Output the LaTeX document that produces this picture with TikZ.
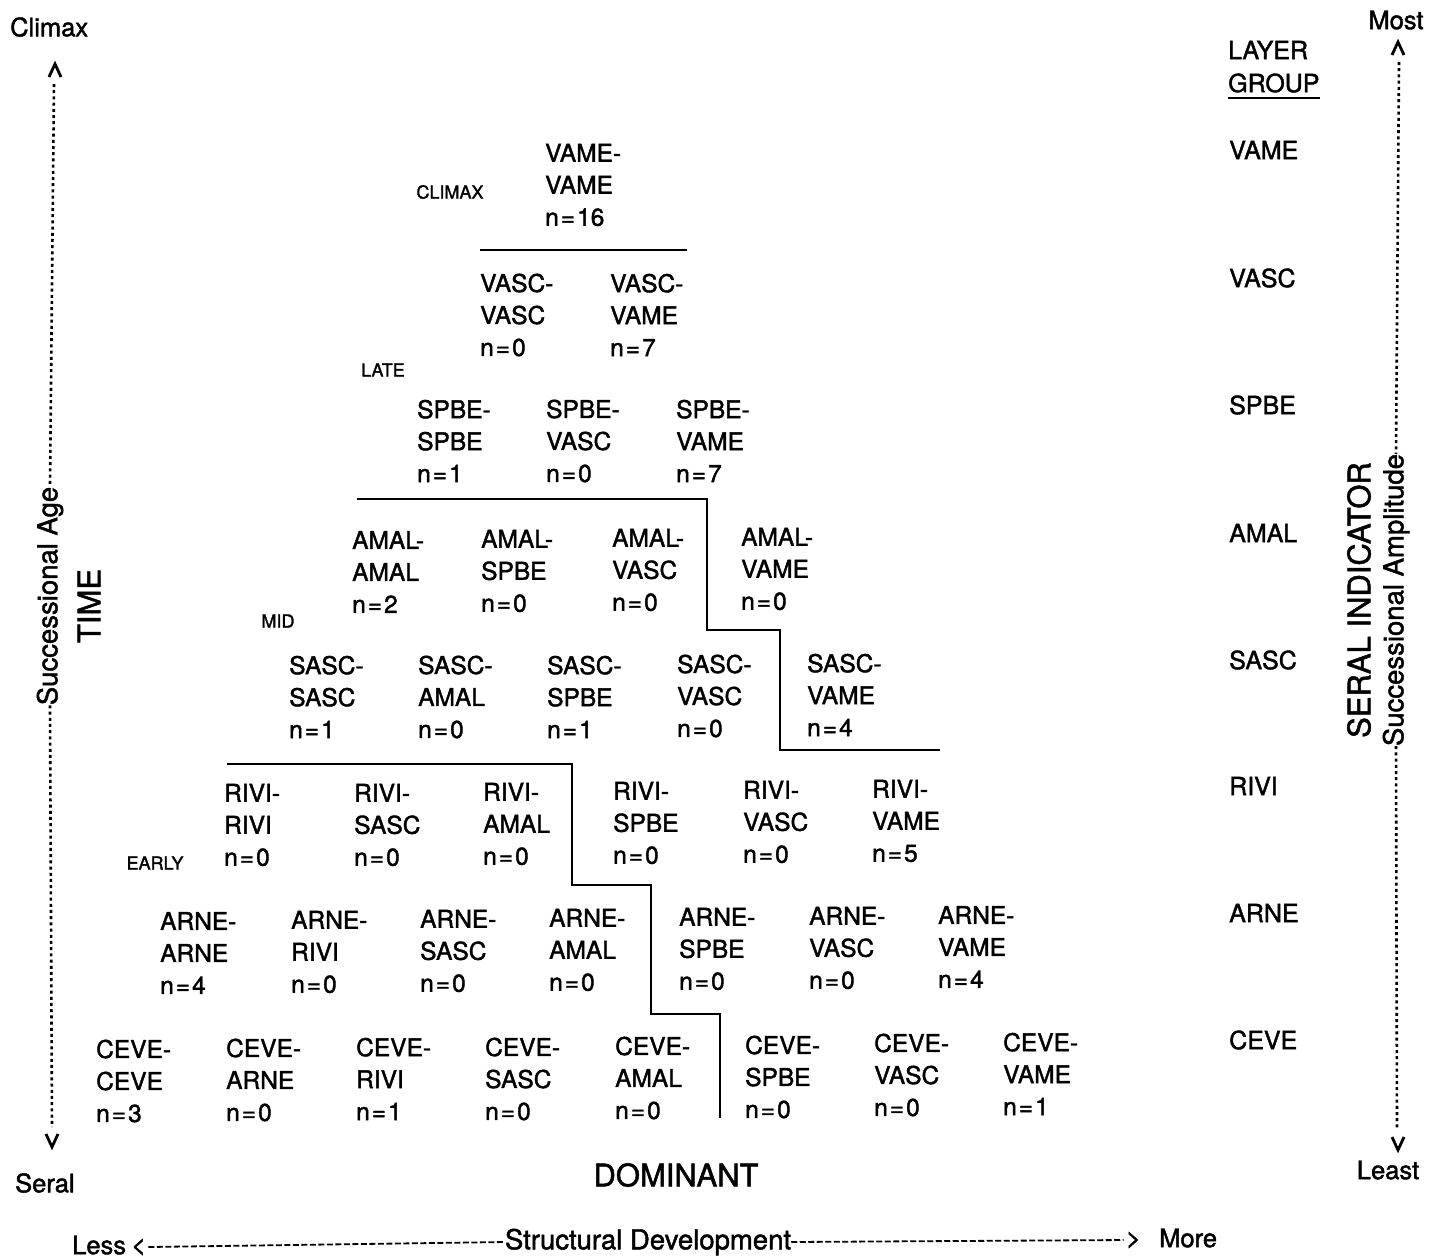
\documentclass[tikz,border=0pt]{standalone}
\usepackage{fontspec}
\setmainfont{TeX Gyre Heros}[UprightFeatures={FakeBold=1.6}]
\newcommand{\nval}[1]{n\kern2pt=\kern2pt#1}
\begin{document}
\begin{tikzpicture}[x=1pt,y=-1pt,
  cell/.style={anchor=west,align=left,inner sep=0pt,font=\fontsize{24.5}{32}\selectfont},
  grp/.style={anchor=west,inner sep=0pt,font=\fontsize{25}{30}\selectfont},
  stage/.style={inner sep=0pt,font=\fontsize{18}{20}\selectfont},
  corner/.style={inner sep=0pt,font=\fontsize{25.5}{30}\selectfont},
  axislbl/.style={inner sep=0pt,font=\fontsize{27.5}{32}\selectfont},
  biglbl/.style={inner sep=0pt,font=\fontsize{31}{36}\selectfont},
  boundary/.style={line width=2.6pt},
  dotaxis/.style={line width=2.6pt,dash pattern=on 3pt off 3.2pt},
  dashaxis/.style={line width=1.8pt,dash pattern=on 6pt off 2.5pt},
  chev/.style={line width=2.8pt}]
\useasboundingbox (0,0) rectangle (1443,1259);

% ---------- cells: layer-group pairs with counts ----------
\node[cell] (vame-vame) at (545,185) {VAME-\\VAME\\\nval{16}};

\foreach \x/\y/\b/\cnt in {480/315/VASC/0, 610/315/VAME/7}
  \node[cell] (vasc-\b) at (\x,\y) {VASC-\\\b\\\nval{\cnt}};

\foreach \x/\y/\b/\cnt in {417/441/SPBE/1, 546/441/VASC/0, 676/441/VAME/7}
  \node[cell] (spbe-\b) at (\x,\y) {SPBE-\\\b\\\nval{\cnt}};

\foreach \x/\y/\b/\cnt in {352/572/AMAL/2, 481/571/SPBE/0, 612/570/VASC/0, 741/569/VAME/0}
  \node[cell] (amal-\b) at (\x,\y) {AMAL-\\\b\\\nval{\cnt}};

\foreach \x/\y/\b/\cnt in {289/697/SASC/1, 418/697/AMAL/0, 547/697/SPBE/1, 677/696/VASC/0, 807/695/VAME/4}
  \node[cell] (sasc-\b) at (\x,\y) {SASC-\\\b\\\nval{\cnt}};

\foreach \x/\y/\b/\cnt in {224/825/RIVI/0, 354/825/SASC/0, 483/824/AMAL/0, 613/823/SPBE/0, 743/822/VASC/0, 872/821/VAME/5}
  \node[cell] (rivi-\b) at (\x,\y) {RIVI-\\\b\\\nval{\cnt}};

\foreach \x/\y/\b/\cnt in {160/953/ARNE/4, 291/952/RIVI/0, 420/951/SASC/0, 549/950/AMAL/0, 679/949/SPBE/0, 809/948/VASC/0, 938/947/VAME/4}
  \node[cell] (arne-\b) at (\x,\y) {ARNE-\\\b\\\nval{\cnt}};

\foreach \x/\y/\b/\cnt in {96/1081/CEVE/3, 226/1080/ARNE/0, 356/1079/RIVI/1, 485/1079/SASC/0, 615/1078/AMAL/0, 745/1077/SPBE/0, 874/1075/VASC/0, 1003/1074/VAME/1}
  \node[cell] (ceve-\b) at (\x,\y) {CEVE-\\\b\\\nval{\cnt}};

% ---------- stage labels ----------
\node[stage] (st-climax) at (450,192) {CLIMAX};
\node[stage] (st-late)   at (383,370) {LATE};
\node[stage] (st-mid)    at (278,621) {MID};
\node[stage] (st-early)  at (155,863) {EARLY};

% ---------- dominance boundaries ----------
\draw[boundary] (480,250) -- (687,250);
\draw[boundary] (357,499) -- (707,499) -- (707,630) -- (780,630) -- (780,750) -- (940,750);
\draw[boundary] (227,764) -- (572,764) -- (572,885) -- (651,885) -- (651,1014) -- (720,1014) -- (720,1118);

% ---------- layer group column ----------
\node[grp] (layer) at (1228,50) {LAYER};
\node[grp] (group) at (1228,83) {GROUP};
\draw[line width=2.4pt] ([yshift=-5pt]group.south west) -- ([yshift=-5pt]group.south east);
\foreach \y/\g in {150/VAME, 278/VASC, 405/SPBE, 533/AMAL, 660/SASC, 786/RIVI, 913/ARNE, 1040/CEVE}
  \node[grp] (lg-\g) at (1229,\y) {\g};

% ---------- left axis: successional age ----------
\node[corner,anchor=west] (climax) at (10,27) {Climax};
\node[corner,anchor=west] (seral) at (15,1183) {Seral};
\draw[chev] (49,77) -- (55,64) -- (61,77);
\draw[chev] (46,1134) -- (52,1147) -- (58,1134);
\coordinate (lt) at (54,84);
\coordinate (lb) at (52,1127);
\node[axislbl,rotate=90] (agetxt) at (50,596) {Successional Age};
\draw[dotaxis] (lt) -- (agetxt.east);
\draw[dotaxis] (agetxt.west) -- (lb);
\node[biglbl,rotate=90] (time) at (89,606) {TIME};

% ---------- right axis: successional amplitude ----------
\node[corner] (most) at (1396,20) {Most};
\node[corner] (least) at (1388,1170) {Least};
\draw[chev] (1392,55) -- (1398,42) -- (1404,55);
\draw[chev] (1392,1137) -- (1398,1150) -- (1404,1137);
\coordinate (rt) at (1399,62);
\coordinate (rb) at (1397,1128);
\node[axislbl,rotate=90] (amptxt) at (1396,600) {Successional Amplitude};
\draw[dotaxis] (rt) -- (amptxt.east);
\draw[dotaxis] (amptxt.west) -- (rb);
\node[biglbl,rotate=90] (seralind) at (1359,600) {SERAL INDICATOR};

% ---------- bottom axis: structural development ----------
\node[biglbl] (dominant) at (676,1175) {DOMINANT};
\node[corner,anchor=west] (less) at (72,1245) {Less};
\node[corner,anchor=west] (lessarr) at (131,1247) {<};
\node[axislbl] (structtxt) at (648,1242) {Structural Development};
\node[corner,anchor=east] (morearr) at (1141,1240) {>};
\node[corner,anchor=west] (more) at (1159,1238) {More};
\draw[dashaxis] ([xshift=2pt]lessarr.east) -- (structtxt.west);
\draw[dashaxis] (structtxt.east) -- ([xshift=-2pt]morearr.west);
\end{tikzpicture}
\end{document}
